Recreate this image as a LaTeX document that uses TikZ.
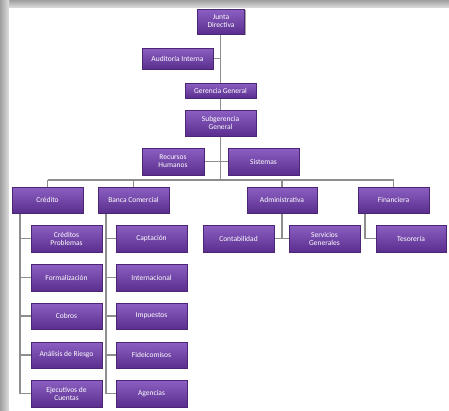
\documentclass[tikz,border=0pt]{standalone}
\usepackage{fontspec}
\setmainfont{Carlito}
\usetikzlibrary{shadows}
\definecolor{boxtop}{HTML}{8C60C2}
\definecolor{boxbot}{HTML}{5A2E8E}
\definecolor{boxline}{HTML}{4A2674}
\definecolor{conn}{HTML}{8E8E8E}
\tikzset{
  orgbox/.style={draw=boxline, line width=0.4pt, top color=boxtop, bottom color=boxbot,
    text=white, font=\fontsize{7.5}{8}\selectfont, align=center, inner sep=1pt,
    drop shadow={shadow xshift=1pt, shadow yshift=-1pt, opacity=0.35, fill=black}},
  conline/.style={draw=conn, line width=1.3pt},
}
\begin{document}
\begin{tikzpicture}[x=1pt,y=-1pt]
\useasboundingbox (0,0) rectangle (449,410);
\fill[white] (0,0) rectangle (449,410);
\shade[top color=gray!75, bottom color=gray!25] (0,0) rectangle (449,8);
\shade[left color=gray!75, right color=gray!25] (0,0) rectangle (9,410);
\fill[white] (9,8) rectangle (449,410);
% box helper: centre and size
\newcommand{\obox}[6]{\node[orgbox, minimum width=#4pt, minimum height=#5pt] (#1) at (#2,#3) {#6};}
% connectors first (drawn under boxes)
\coordinate (spineTop) at (220.5,22);
\coordinate (spineBot) at (220.5,180);
\coordinate (barL) at (47.5,180);
\coordinate (barR) at (393.5,180);
\draw[conline] (spineTop) -- (spineBot);
\draw[conline] (barL) -- (barR);
\draw[conline] (barL) -- (47.5,190);
\draw[conline] (133.5,180) -- (133.5,190);
\draw[conline] (282,180) -- (282,190);
\draw[conline] (barR) -- (393.5,190);
\draw[conline] (178,58.5) -- (220.5,58.5);
\draw[conline] (173,161.5) -- (263,161.5);
% Credito branch
\draw[conline] (20,205) -- (20,393.5);
\foreach \yy in {238.5,277.5,316,355,393.5} \draw[conline] (20,\yy) -- (40,\yy);
% Banca branch
\draw[conline] (106,205) -- (106,393.5);
\foreach \yy in {238.5,277.5,316,355,393.5} \draw[conline] (106,\yy) -- (125,\yy);
% Administrativa branch
\draw[conline] (282,205) -- (282,238.5);
\draw[conline] (250,238.5) -- (310,238.5);
% Financiera branch
\draw[conline] (365,205) -- (365,238.5) -- (385,238.5);

\obox{jd}{221}{21.5}{47}{25}{Junta\\Directiva}
\obox{ai}{177.5}{58.5}{71}{21}{Auditoría Interna}
\obox{gg}{220.5}{90.5}{71}{15}{Gerencia General}
\obox{sg}{220.5}{123}{71}{26}{Subgerencia\\General}
\obox{rh}{173}{161.5}{62}{27}{Recursos\\Humanos}
\obox{si}{263.5}{161.5}{71}{27}{Sistemas}
\obox{cr}{47.5}{200}{71}{26}{Crédito}
\obox{bc}{133.5}{200}{71}{26}{Banca Comercial}
\obox{ad}{282}{200}{70}{26}{Administrativa}
\obox{fi}{393.5}{200}{71}{26}{Financiera}
\obox{c1}{66.5}{238.5}{71}{27}{Créditos\\Problemas}
\obox{c2}{66.5}{277.5}{71}{27}{Formalización}
\obox{c3}{66.5}{316}{71}{26}{Cobros}
\obox{c4}{66.5}{355}{71}{26}{Análisis de Riesgo}
\obox{c5}{66.5}{393.5}{71}{27}{Ejecutivos de\\Cuentas}
\obox{b1}{151.5}{238.5}{71}{27}{Captación}
\obox{b2}{151.5}{277.5}{71}{27}{Internacional}
\obox{b3}{151.5}{316}{71}{26}{Impuestos}
\obox{b4}{151.5}{355}{71}{26}{Fideicomisos}
\obox{b5}{151.5}{393.5}{71}{27}{Agencias}
\obox{a1}{238.5}{238.5}{71}{27}{Contabilidad}
\obox{a2}{324.5}{238.5}{71}{27}{Servicios\\Generales}
\obox{f1}{411}{238.5}{70}{27}{Tesorería}
\end{tikzpicture}
\end{document}
